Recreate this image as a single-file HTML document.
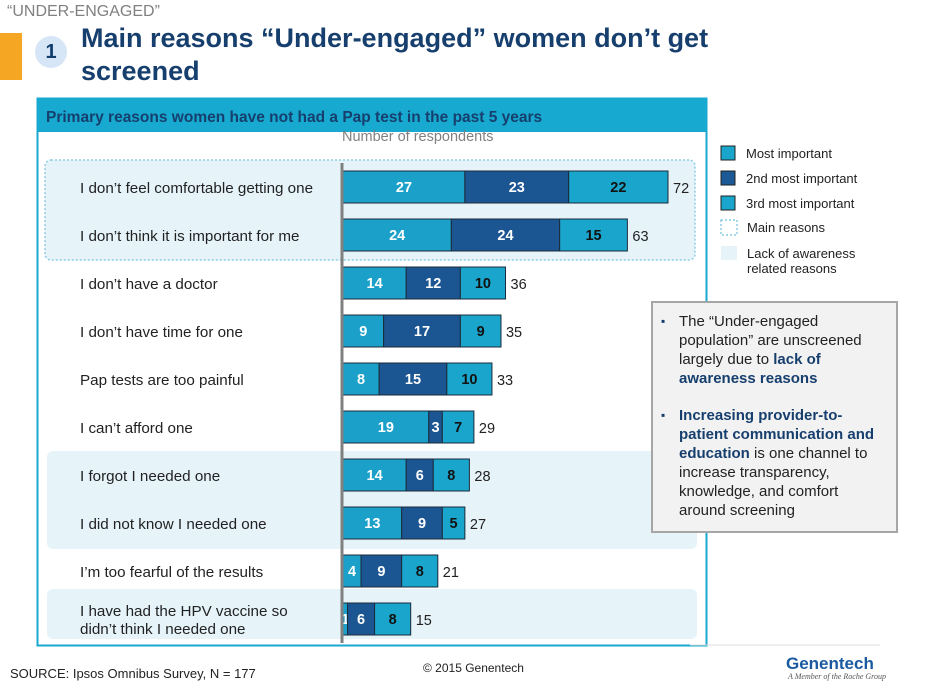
<!DOCTYPE html>
<html><head><meta charset="utf-8"><style>
body{margin:0;width:926px;height:694px;background:#fff;position:relative;font-family:"Liberation Sans",sans-serif;overflow:hidden}
.abs{position:absolute}
.bl{position:relative;padding-left:26px}
.bl span{position:absolute;left:8px;top:0;font-size:12px;color:#173f6e}
</style></head><body>
<div class="abs" style="left:7px;top:3px;font-size:16px;color:#808080">“UNDER-ENGAGED”</div>
<div class="abs" style="left:0;top:33px;width:22px;height:47px;background:#f5a623"></div>
<div class="abs" style="left:35px;top:36px;width:32px;height:32px;border-radius:50%;background:#d6e6f7;color:#123e6e;font-weight:bold;font-size:20px;text-align:center;line-height:32px">1</div>
<div class="abs" style="left:81px;top:22px;font-size:27px;font-weight:bold;color:#173f6e;line-height:33px;width:700px">Main reasons “Under-engaged” women don’t get screened</div>

<svg class="abs" style="left:0;top:0" width="926" height="694" id="chart">
  <rect x="37.5" y="98.5" width="669" height="547" fill="none" stroke="#17a9cf" stroke-width="2"/>
  <rect x="37" y="98" width="670" height="34" fill="#17a9cf"/>
  <text x="46" y="122" font-size="15.5" font-weight="bold" fill="#173f6e">Primary reasons women have not had a Pap test in the past 5 years</text>
  <text x="342" y="141" font-size="14.5" fill="#808080">Number of respondents</text>
  <rect x="45" y="160" width="650" height="100" rx="6" fill="#e6f4fa" stroke="#8ccde6" stroke-dasharray="2,2" stroke-width="1.5"/>
  <rect x="47" y="451" width="650" height="98" rx="6" fill="#e6f4fa"/>
  <rect x="47" y="589" width="650" height="50" rx="6" fill="#e6f4fa"/>
  <g id="bars"></g>
  <line x1="342" y1="163" x2="342" y2="643" stroke="#808080" stroke-width="3"/>
  <rect x="721" y="146" width="14" height="14" fill="#1aa6cc" stroke="#222"/>
  <text x="746" y="158" font-size="13" fill="#222">Most important</text>
  <rect x="721" y="171" width="14" height="14" fill="#1b5a96" stroke="#222"/>
  <text x="746" y="183" font-size="13" fill="#222">2nd most important</text>
  <rect x="721" y="196" width="14" height="14" fill="#1aa6cc" stroke="#222"/>
  <text x="746" y="208" font-size="13" fill="#222">3rd most important</text>
  <rect x="721" y="220" width="16" height="15" fill="none" stroke="#8ccde6" stroke-dasharray="2,2" stroke-width="1.5"/>
  <text x="747" y="232" font-size="13" fill="#222">Main reasons</text>
  <rect x="721" y="246" width="16" height="14" fill="#e6f4fa"/>
  <text x="747" y="258" font-size="13" fill="#222">Lack of awareness</text>
  <text x="747" y="273" font-size="13" fill="#222">related reasons</text>
  <line x1="690" y1="645" x2="880" y2="645" stroke="#ddd"/>
  <text x="10" y="678" font-size="13" fill="#222">SOURCE: Ipsos Omnibus Survey, N = 177</text>
  <text x="423" y="672" font-size="12" fill="#222">© 2015 Genentech</text>
  <text x="786" y="669" font-size="17" font-weight="bold" fill="#1a5aa0">Genentech</text>
  <text x="788" y="679" font-size="8" font-style="italic" fill="#555" font-family="Liberation Serif,serif">A Member of the Roche Group</text>
</svg>

<div class="abs" style="left:651px;top:301px;width:237px;height:213px;background:#f2f2f2;border:2px solid #a6a6a6;padding:9px 6px 6px 0;font-size:15px;line-height:19px;color:#222">
  <div class="bl" style="width:190px"><span>▪</span>The “Under-engaged population” are unscreened largely due to <b style="color:#173f6e">lack of awareness reasons</b></div>
  <div class="bl" style="margin-top:18px;width:200px"><span>▪</span><b style="color:#173f6e">Increasing provider-to-patient communication and education</b> is one channel to increase transparency, knowledge, and comfort around screening</div>
</div>

<script>
const categories=["I don’t feel comfortable getting one","I don’t think it is important for me","I don’t have a doctor","I don’t have time for one","Pap tests are too painful","I can’t afford one","I forgot I needed one","I did not know I needed one","I’m too fearful of the results","I have had the HPV vaccine so|didn’t think I needed one"];
const mostImportant=[27,24,14,9,8,19,14,13,4,1];
const secondImportant=[23,24,12,17,15,3,6,9,9,6];
const thirdImportant=[22,15,10,9,10,7,8,5,8,8];
const NS="http://www.w3.org/2000/svg";
const g=document.getElementById('bars');
const x0=343, pxPerUnit=325/72;
const xs=v=>x0+v*pxPerUnit;
const yc=i=>187+i*48;
function mk(t,a){const e=document.createElementNS(NS,t);for(const k in a)e.setAttribute(k,a[k]);g.appendChild(e);return e;}
const fills=["#1aa0c9","#1b5592","#1aa6cc"];
const tcol=["#fff","#fff","#111"];
categories.forEach((c,i)=>{
  const vals=[mostImportant[i],secondImportant[i],thirdImportant[i]];
  const lines=c.split('|');
  lines.forEach((l,j)=>{
    const t=mk('text',{x:80,y:yc(i)+6+(lines.length>1?(j-0.5)*18:0),'font-size':15.2,fill:'#222'});
    
    
    t.textContent=l;
  });
  let cum=0;
  vals.forEach((v,k)=>{
    const r=mk('rect',{x:xs(cum),y:yc(i)-16,width:v*pxPerUnit,height:32,fill:fills[k],stroke:'#1c2a3a','stroke-width':1});
    
    
    const t=mk('text',{x:xs(cum+v/2),y:yc(i)+5,'font-size':14.5,'font-weight':'bold',fill:tcol[k],'text-anchor':'middle'});
    
    
    t.textContent=v;
    cum+=v;
  });
  const tt=mk('text',{x:xs(cum)+5,y:yc(i)+6,'font-size':14.5,fill:'#222'});
  
  
  tt.textContent=cum;
});
</script>
</body></html>
